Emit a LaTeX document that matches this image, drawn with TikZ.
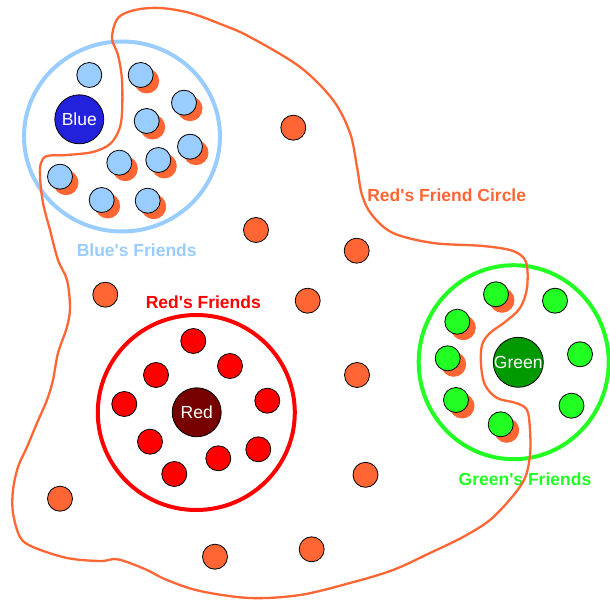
\documentclass[tikz,border=0pt]{standalone}
\usepackage{fontspec}
\setmainfont{Liberation Sans}
\usetikzlibrary{shapes.geometric}
\definecolor{corange}{HTML}{FF6633}
\definecolor{cltblue}{HTML}{99CCFF}
\definecolor{cblue}{HTML}{2222DD}
\definecolor{cred}{HTML}{FF0000}
\definecolor{cdkred}{HTML}{770000}
\definecolor{cgreen}{HTML}{22FF22}
\definecolor{cdkgreen}{HTML}{009900}
\tikzset{
  dot/.style={circle, draw=black, line width=0.8pt, minimum size=25pt, inner sep=0pt},
  shadowdot/.style={circle, fill=corange, minimum size=25pt, inner sep=0pt},
  ring/.style={ellipse, line width=4pt, inner sep=0pt},
  hub/.style={circle, draw=black, line width=0.8pt, minimum size=49pt, inner sep=0pt, text=white, font=\fontsize{17.5}{20}\selectfont},
  grouplabel/.style={font=\fontsize{17.5}{20}\selectfont\bfseries, inner sep=0pt}
}
\begin{document}
\begin{tikzpicture}[x=1pt,y=-1pt]
\useasboundingbox (0,0) rectangle (610,601);
% rings
\node[ring, draw=cltblue, minimum width=196pt, minimum height=190pt] (bluering) at (122,136.5) {};
\node[ring, draw=cred, minimum width=197pt, minimum height=195pt] (redring) at (196.3,412.5) {};
\node[ring, draw=cgreen, minimum width=190pt, minimum height=194pt] (greenring) at (513.7,362.2) {};
% labels
\node[grouplabel, text=cltblue] (bluelabel) at (136.7,250) {Blue\textquotesingle s Friends};
\node[grouplabel, text=cred] (redlabel) at (203.3,302.7) {Red\textquotesingle s Friends};
\node[grouplabel, text=corange] (circlelabel) at (446.7,195) {Red\textquotesingle s Friend Circle};
\node[grouplabel, text=cgreen] (greenlabel) at (525,479) {Green\textquotesingle s Friends};
% Red's friend circle
\draw[corange, line width=2.3pt] plot[smooth cycle, tension=0.55] coordinates {
 (112,38) (118,18) (135,10) (160,8) (190,13) (223,25) (250,37) (300,67) (333,100)
 (350,133) (357,167) (362,195) (372,215) (393,233) (433,243) (483,246) (513,251)
 (526,262) (527,288) (520,308) (505,322) (490,333) (482,345) (481,365) (485,385)
 (497,398) (516,403) (527,410) (530,430) (530,455) (525,478) (512,497) (490,520)
 (463,537) (430,553) (393,570) (350,583) (300,595) (250,598) (200,591) (167,580)
 (147,570) (127,562) (115,559) (100,561) (67,558) (33,547) (20,537) (13,513)
 (13,490) (18,467) (27,447) (37,423) (47,400) (53,380) (58,353) (67,327) (70,307)
 (67,280) (58,260) (50,230) (43,203) (40,177) (41,163) (47,156) (67,155) (93,152)
 (110,144) (119,130) (122,113) (122,80) (118,55)};
% loose orange friends
\foreach \p [count=\i] in {(293.3,127.7),(256,230),(356.7,250.7),(105.3,294.7),(307.7,300.7),(357,375),(365.5,474.8),(60,498.7),(215,556.7),(311.7,549.3)}
  \node[dot, fill=corange] (o\i) at \p {};
% blue friends
\foreach \x/\y/\s [count=\i] in {89.3/75/0,140.7/75/1,184/102.7/1,146.7/121/1,190/146.7/1,119.3/162.7/1,158.3/160/1,60/176.7/1,101.7/200/1,147.7/200.7/1}{
  \ifnum\s=1 \node[shadowdot] (bs\i) at (\x+6,\y+6) {};\fi
  \node[dot, fill=cltblue] (b\i) at (\x,\y) {};
}
% red friends
\foreach \p [count=\i] in {(193.3,341),(230,366),(156,375),(124.3,404),(267.3,400.7),(150,441.7),(258.3,449.3),(218.3,458.3),(174.3,474)}
  \node[dot, fill=cred] (r\i) at \p {};
% green friends
\foreach \x/\y/\s [count=\i] in {496/294.3/1,555/300.7/0,457.3/321.7/1,580/354.3/0,447.7/358.3/1,456/400/1,571.5/405.7/0,500.7/424.3/1}{
  \ifnum\s=1 \node[shadowdot] (gs\i) at (\x+6,\y+6) {};\fi
  \node[dot, fill=cgreen] (g\i) at (\x,\y) {};
}
% hubs
\node[hub, fill=cblue] (blue) at (79.3,119.3) {Blue};
\node[hub, fill=cdkred] (red) at (196.7,412.3) {Red};
\node[hub, fill=cdkgreen] (green) at (518.3,362.3) {Green};
\end{tikzpicture}
\end{document}
